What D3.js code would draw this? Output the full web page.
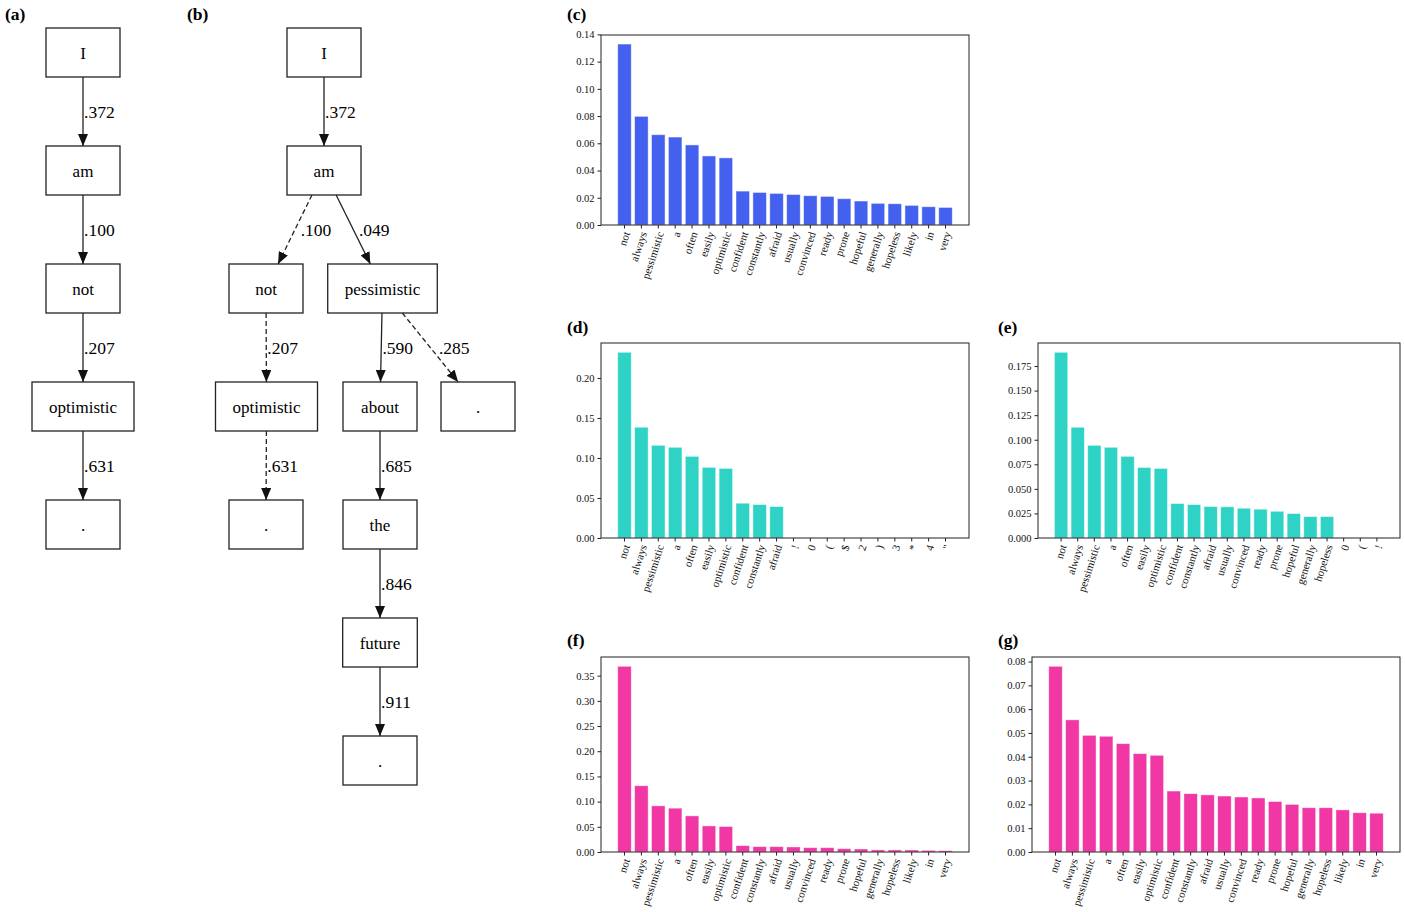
<!DOCTYPE html>
<html>
<head>
<meta charset="utf-8">
<script src="https://cdn.jsdelivr.net/npm/d3@7"></script>
<style>
  body { margin: 0; background: #fff; }
  text { font-family: "Liberation Serif", "Times New Roman", serif; }
</style>
</head>
<body>
<div class="container"></div>
<script>
const w = 1405
const h = 912

// ---- tree data ----
const treeANodes = ["I", "am", "not", "optimistic", "."]
const treeAEdges = [
  {s: 0, t: 1, p: ".372", dashed: false},
  {s: 1, t: 2, p: ".100", dashed: false},
  {s: 2, t: 3, p: ".207", dashed: false},
  {s: 3, t: 4, p: ".631", dashed: false}
]

const treeBNodes = ["I", "am", "not", "pessimistic", "optimistic", "about", ".", ".", "the", "future", "."]
const treeBEdges = [
  {s: 0, t: 1, p: ".372", dashed: false},
  {s: 1, t: 2, p: ".100", dashed: true},
  {s: 1, t: 3, p: ".049", dashed: false},
  {s: 2, t: 4, p: ".207", dashed: true},
  {s: 3, t: 5, p: ".590", dashed: false},
  {s: 3, t: 6, p: ".285", dashed: true},
  {s: 4, t: 7, p: ".631", dashed: true},
  {s: 5, t: 8, p: ".685", dashed: false},
  {s: 8, t: 9, p: ".846", dashed: false},
  {s: 9, t: 10, p: ".911", dashed: false}
]

// ---- bar chart data ----
const wordsMain = ["not","always","pessimistic","a","often","easily","optimistic","confident","constantly","afraid",
                   "usually","convinced","ready","prone","hopeful","generally","hopeless","likely","in","very"]
const wordsD = ["not","always","pessimistic","a","often","easily","optimistic","confident","constantly","afraid",
                "!","0","(","$","2",")","3","*","4","\""]
const wordsE = ["not","always","pessimistic","a","often","easily","optimistic","confident","constantly","afraid",
                "usually","convinced","ready","prone","hopeful","generally","hopeless","0","(","!"]

const valuesC = [0.1329,0.0798,0.0663,0.0646,0.0588,0.0507,0.0493,0.0249,0.0239,0.0232,
                 0.0224,0.0215,0.0210,0.0193,0.0176,0.0159,0.0156,0.0144,0.0134,0.0129]
const valuesD = [0.2322,0.1385,0.1159,0.1134,0.1021,0.0883,0.0870,0.0435,0.0418,0.0393,
                 0,0,0,0,0,0,0,0,0,0]
const valuesE = [0.1890,0.1127,0.0943,0.0923,0.0831,0.0718,0.0708,0.0351,0.0340,0.0320,
                 0.0317,0.0303,0.0293,0.0272,0.0249,0.0218,0.0218,0,0,0]
const valuesF = [0.3686,0.1315,0.0916,0.0870,0.0717,0.0518,0.0505,0.0126,0.0106,0.0106,
                 0.0100,0.0086,0.0086,0.0066,0.0060,0.0042,0.0041,0.0040,0.0033,0.0027]
const valuesG = [0.0780,0.0555,0.0490,0.0486,0.0455,0.0413,0.0406,0.0256,0.0245,0.0240,
                 0.0235,0.0231,0.0227,0.0212,0.0200,0.0186,0.0186,0.0177,0.0165,0.0163]

const ticksC = [0, 0.02, 0.04, 0.06, 0.08, 0.10, 0.12, 0.14]
const ticksD = [0, 0.05, 0.10, 0.15, 0.20]
const ticksE = [0, 0.025, 0.05, 0.075, 0.10, 0.125, 0.15, 0.175]
const ticksF = [0, 0.05, 0.10, 0.15, 0.20, 0.25, 0.30, 0.35]
const ticksG = [0, 0.01, 0.02, 0.03, 0.04, 0.05, 0.06, 0.07, 0.08]

const blue = "#4361ee"
const teal = "#2ed3c6"
const pink = "#f037a3"

const svg = d3.select(".container")
              .append("svg")
              .attr("width", w)
              .attr("height", h)

svg.append("defs").append("marker")
    .attr("id", "arrow")
    .attr("markerUnits", "userSpaceOnUse")
    .attr("viewBox", "0 0 12 10")
    .attr("markerWidth", 12)
    .attr("markerHeight", 10)
    .attr("refX", 12)
    .attr("refY", 5)
    .attr("orient", "auto")
  .append("path")
    .attr("d", "M0,0L12,5L0,10Z")
    .attr("fill", "#111")

// ---- panel labels ----
const panelLabels = [["(a)", 5, 20], ["(b)", 187, 20], ["(c)", 567, 20], ["(d)", 567, 333],
                     ["(e)", 998, 333], ["(f)", 567, 646], ["(g)", 998, 646]]
svg.selectAll(".panel-label")
    .data(panelLabels)
    .enter()
    .append("text")
      .attr("class", "panel-label")
      .attr("x", d => d[1])
      .attr("y", d => d[2])
      .attr("font-size", 17.5)
      .attr("font-weight", "bold")
      .text(d => d[0])

// ---- trees ----
const boxH = 49
const levelY = d3.scaleLinear().domain([0, 1]).range([28, 146])

function drawTree(nodes, edges, layout) {
  const g = svg.append("g")
  const pos = nodes.map((n, i) => ({label: n, level: layout[i][0], cx: layout[i][1]}))

  const nodeG = g.selectAll(".node")
      .data(pos)
      .enter()
      .append("g")
        .attr("class", "node")

  nodeG.append("text")
      .attr("x", d => d.cx)
      .attr("y", d => levelY(d.level) + boxH / 2 + 1)
      .attr("text-anchor", "middle")
      .attr("dominant-baseline", "central")
      .attr("font-size", 17)
      .text(d => d.label)
      .each(function(d) { d.w = Math.max(74, this.getComputedTextLength() + 34) })

  nodeG.insert("rect", "text")
      .attr("x", d => d.cx - d.w / 2)
      .attr("y", d => levelY(d.level))
      .attr("width", d => d.w)
      .attr("height", boxH)
      .attr("fill", "none")
      .attr("stroke", "#222")
      .attr("stroke-width", 1.3)

  edges.forEach(e => {
    const a = pos[e.s], b = pos[e.t]
    const ay = levelY(a.level) + boxH / 2, by = levelY(b.level) + boxH / 2
    const fx = y => a.cx + (b.cx - a.cx) * (y - ay) / (by - ay)
    const y1 = levelY(a.level) + boxH, y2 = levelY(b.level)
    g.append("line")
        .attr("x1", fx(y1)).attr("y1", y1)
        .attr("x2", fx(y2)).attr("y2", y2)
        .attr("stroke", "#222")
        .attr("stroke-width", 1.3)
        .attr("stroke-dasharray", e.dashed ? "5,3" : null)
        .attr("marker-end", "url(#arrow)")
    const my = (y1 + y2) / 2
    g.append("text")
        .attr("x", fx(my) + 1 + Math.abs(b.cx - a.cx) * 0.08)
        .attr("y", my + 6)
        .attr("font-size", 17.5)
        .text(e.p)
  })
}

drawTree(treeANodes, treeAEdges, [[0, 83], [1, 83], [2, 83], [3, 83], [4, 83]])
drawTree(treeBNodes, treeBEdges, [[0, 324], [1, 324], [2, 266], [2, 382.5], [3, 266.5], [3, 380],
                                  [3, 478], [4, 266], [4, 380], [5, 380], [6, 380]])

// ---- bar charts ----
function drawBars(box, labels, values, ticks, fmt, color) {
  const g = svg.append("g")

  const xScale = d3.scaleBand()
                   .domain(d3.range(labels.length))
                   .range([box.x0, box.x1])
                   .paddingInner(0.2)
                   .paddingOuter(0.99)

  const yScale = d3.scaleLinear()
                   .domain([0, d3.max(values) * 1.05])
                   .range([box.y1, box.y0])

  g.selectAll("rect")
      .data(values)
      .enter()
      .append("rect")
        .attr("x", (d, i) => xScale(i))
        .attr("y", d => yScale(d))
        .attr("width", xScale.bandwidth())
        .attr("height", d => box.y1 - yScale(d))
        .attr("fill", color)
        .attr("stroke", "#ffffff")
        .attr("stroke-opacity", 0.55)
        .attr("stroke-width", 0.8)

  const yAxis = d3.axisLeft(yScale)
                  .tickValues(ticks)
                  .tickFormat(d3.format(fmt))
                  .tickSize(3.5)
                  .tickSizeOuter(0)

  const xAxis = d3.axisBottom(xScale)
                  .tickFormat(i => labels[i])
                  .tickSize(3.5)
                  .tickSizeOuter(0)

  const ya = g.append("g")
      .attr("transform", `translate(${box.x0}, 0)`)
      .call(yAxis)
  ya.select(".domain").remove()
  ya.selectAll("text").attr("font-size", 10.5).attr("font-family", "Liberation Serif").attr("fill", "#111")
  ya.selectAll("line").attr("stroke", "#222")

  const xa = g.append("g")
      .attr("transform", `translate(0, ${box.y1})`)
      .call(xAxis)
  xa.select(".domain").remove()
  xa.selectAll("line").attr("stroke", "#222")
  xa.selectAll("text")
      .attr("font-size", 11)
      .attr("font-family", "Liberation Serif")
      .attr("fill", "#111")
      .attr("x", 0)
      .attr("y", 0)
      .attr("dy", "0.35em")
      .attr("text-anchor", "end")
      .attr("transform", "translate(2, 7) rotate(-72)")

  g.append("rect")
      .attr("x", box.x0)
      .attr("y", box.y0)
      .attr("width", box.x1 - box.x0)
      .attr("height", box.y1 - box.y0)
      .attr("fill", "none")
      .attr("stroke", "#222")
      .attr("stroke-width", 1)
}

drawBars({x0: 601, x1: 969, y0: 35, y1: 225}, wordsMain, valuesC, ticksC, ".2f", blue)
drawBars({x0: 601, x1: 969, y0: 343, y1: 538}, wordsD, valuesD, ticksD, ".2f", teal)
drawBars({x0: 1038, x1: 1400, y0: 343, y1: 538}, wordsE, valuesE, ticksE, ".3f", teal)
drawBars({x0: 601, x1: 969, y0: 657, y1: 852}, wordsMain, valuesF, ticksF, ".2f", pink)
drawBars({x0: 1032, x1: 1400, y0: 657, y1: 852}, wordsMain, valuesG, ticksG, ".2f", pink)
</script>
</body>
</html>
